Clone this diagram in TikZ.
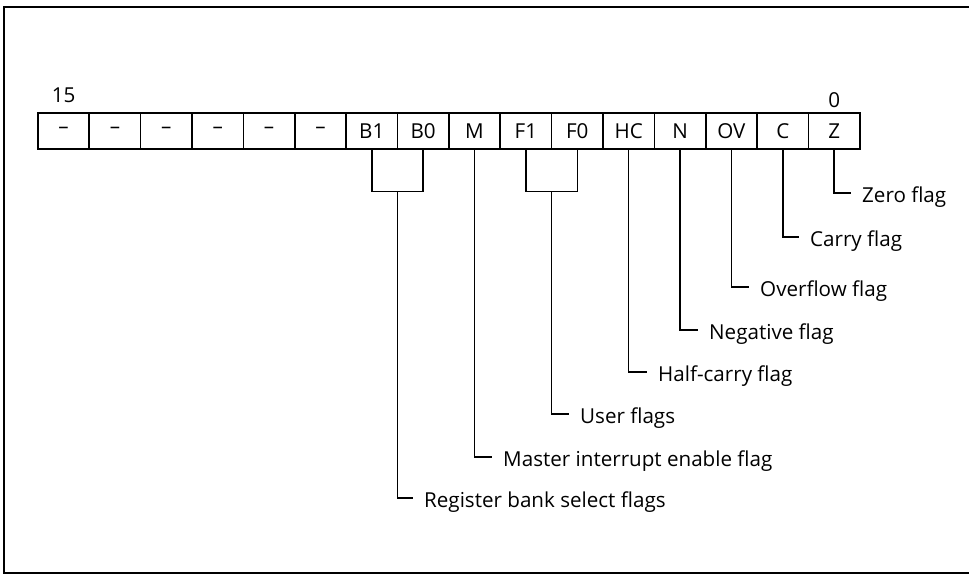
\documentclass[tikz,border=0pt]{standalone}
\usepackage{fontspec}
\setmainfont{Open Sans}
\usetikzlibrary{calc}
\begin{document}
\begin{tikzpicture}[x=1pt,y=-1pt,
  txt/.style={font=\fontsize{20.6}{22}\selectfont},
  cell/.style={txt, draw, line width=1.7pt, minimum width=51.375pt, minimum height=36pt,
    inner sep=0pt, anchor=north west},
  lab/.style={txt, anchor=base west, inner sep=0pt},
  num/.style={txt, anchor=base, inner sep=0pt},
  conn/.style={line width=1.5pt},
  frame/.style={line width=2.2pt},
]
\useasboundingbox (0,0) rectangle (969,584);
\draw[frame] (969,7) -- (4,7) -- (4,573) -- (969,573);

\foreach \t [count=\i from 0] in {–,–,–,–,–,–,B1,B0,M,F1,F0,HC,N,OV,C,Z}
  \node[cell] (c\i) at (37+\i*51.375,112) {\t};

\node[num] (n15) at ([yshift=10pt]c0.north) {15};
\node[num] (n0) at ([yshift=5pt]c15.north) {0};

% brackets
\draw[conn] (c6.south) -- ++(0,42) -| (c7.south);
\coordinate (bB) at ([yshift=-42pt]$(c6.south)!0.5!(c7.south)$);
\draw[conn] (c9.south) -- ++(0,42) -| (c10.south);
\coordinate (bF) at ([yshift=-42pt]$(c9.south)!0.5!(c10.south)$);

% labels
\node[lab] (lZ)  at (862,202) {Zero flag};
\node[lab] (lC)  at (810,246) {Carry flag};
\node[lab] (lOV) at (760,296) {Overflow flag};
\node[lab] (lN)  at (709,339) {Negative flag};
\node[lab] (lHC) at (658,381) {Half-carry flag};
\node[lab] (lU)  at (580,423) {User flags};
\node[lab] (lM)  at (503,466) {Master interrupt enable flag};
\node[lab] (lR)  at (424,507) {Register bank select flags};

% connectors
\draw[conn] (c15.south) |- ([xshift=-11pt,yshift=9pt]lZ.base west);
\draw[conn] (c14.south) |- ([xshift=-11pt,yshift=9pt]lC.base west);
\draw[conn] (c13.south) |- ([xshift=-11pt,yshift=9pt]lOV.base west);
\draw[conn] (c12.south) |- ([xshift=-11pt,yshift=9pt]lN.base west);
\draw[conn] (c11.south) |- ([xshift=-11pt,yshift=9pt]lHC.base west);
\draw[conn] (bF) |- ([xshift=-11pt,yshift=9pt]lU.base west);
\draw[conn] (c8.south) |- ([xshift=-11pt,yshift=9pt]lM.base west);
\draw[conn] (bB) |- ([xshift=-11pt,yshift=9pt]lR.base west);
\end{tikzpicture}
\end{document}
